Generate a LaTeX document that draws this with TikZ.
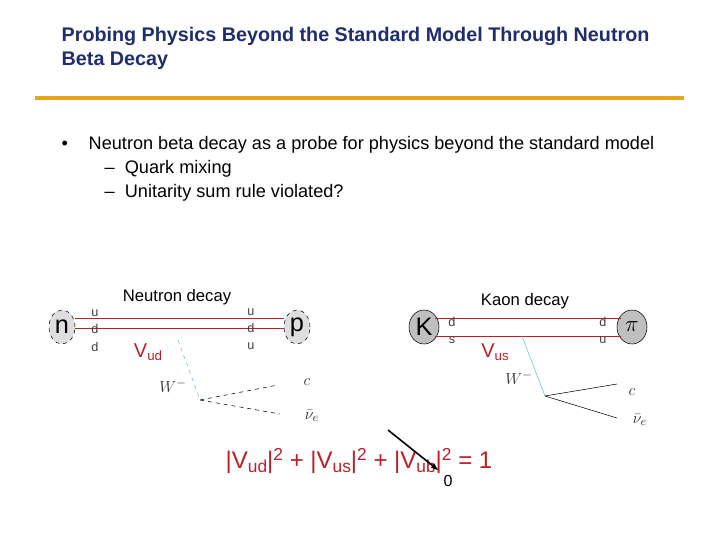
\documentclass[tikz,border=0pt]{standalone}
\usepackage{fontspec}
\setmainfont{Liberation Sans}
\usetikzlibrary{shapes.geometric,arrows.meta}
\definecolor{ttl}{RGB}{31,45,110}
\definecolor{orng}{RGB}{232,165,30}
\definecolor{qred}{RGB}{190,30,40}
\definecolor{wcyan}{RGB}{100,190,200}
\begin{document}
\begin{tikzpicture}[x=0.75pt,y=-0.75pt,
  had/.style={ellipse,draw,dashed,fill=black!13,inner sep=0pt,minimum width=26pt*0.75,minimum height=34pt*0.75,font=\fontsize{19}{19}\selectfont},
  hads/.style={ellipse,draw,fill=black!25,inner sep=0pt,minimum width=30pt*0.75,minimum height=34pt*0.75,font=\fontsize{19}{19}\selectfont},
  q/.style={font=\fontsize{9.5}{9.5}\selectfont,text=black!75},
  lab/.style={font=\fontsize{13}{13}\selectfont\itshape,text=black!80},
  body/.style={anchor=west,font=\fontsize{13.6}{15}\selectfont},
  quark/.style={draw=qred,line width=0.6pt}]
\useasboundingbox (0,0) rectangle (720,540);
\node[anchor=west,text=ttl,font=\fontsize{14.8}{18}\selectfont\bfseries,align=left] (title) at (57,48) {Probing Physics Beyond the Standard Model Through Neutron\\Beta Decay};
\draw[orng,line width=3pt] (35,98) -- (684,98);
\node[body] (b0) at (57,145) {•};
\node[body] (b1) at (84,145) {Neutron beta decay as a probe for physics beyond the standard model};
\node[body] (b2) at (100,169) {–\ \ Quark mixing};
\node[body] (b3) at (100,193) {–\ \ Unitarity sum rule violated?};
% neutron
\node[font=\fontsize{12.5}{12.5}\selectfont] (nd) at (177,297) {Neutron decay};
\node[had] (n) at (62,327) {n};
\node[had] (p) at (297,327) {p};
\draw[quark] (n.east|-0,318) -- (p.west|-0,318);
\draw[quark] (n.east|-0,328) -- (p.west|-0,328);
\node[q] (q1) at (95,313) {u}; \node[q] (q2) at (95,329) {d}; \node[q] (q3) at (95,347) {d};
\node[q] (q4) at (251,312) {u}; \node[q] (q5) at (251,328) {d}; \node[q] (q6) at (251,346) {u};
\node[text=qred,font=\fontsize{15}{15}\selectfont] (vud) at (148,352) {V\raisebox{-2pt}{\fontsize{10}{10}\selectfont ud}};
\coordinate (w1a) at (178,340); \coordinate (w1b) at (200,400);
\coordinate (e1) at (278,385); \coordinate (v1) at (280,414);
\draw[wcyan,dashed] (w1a) -- (w1b);
\draw[dashed] (w1b) -- (e1); \draw[dashed] (w1b) -- (v1);
\node[lab] (wl1) at (173,386) {$W^-$};
\node[lab] (el1) at (307,382) {$c$};
\node[lab] (nl1) at (312,416) {$\bar\nu_e$};
% kaon
\node[font=\fontsize{12.5}{12.5}\selectfont] (kd) at (525,301) {Kaon decay};
\node[hads] (K) at (424,327) {K};
\node[hads] (pi) at (632,327) {$\pi$};
\draw[quark] (K.north east|-0,318) -- (pi.north west|-0,318);
\draw[quark] (K.south east|-0,336) -- (pi.south west|-0,336);
\node[q] (k1) at (452,322) {d}; \node[q] (k2) at (452,340) {s};
\node[q] (k3) at (603,322) {d}; \node[q] (k4) at (603,340) {u};
\node[text=qred,font=\fontsize{15}{15}\selectfont] (vus) at (495,352) {V\raisebox{-2pt}{\fontsize{10}{10}\selectfont us}};
\coordinate (w2a) at (522,336); \coordinate (w2b) at (545,396);
\coordinate (e2) at (617,384); \coordinate (v2) at (617,418);
\draw[wcyan] (w2a) -- (w2b);
\draw (w2b) -- (e2); \draw (w2b) -- (v2);
\node[lab] (wl2) at (519,378) {$W^-$};
\node[lab] (el2) at (632,392) {$c$};
\node[lab] (nl2) at (640,420) {$\bar\nu_e$};
% equation
\node[text=qred,font=\fontsize{18}{18}\selectfont] (eq) at (359,461)
 {|V\raisebox{-3pt}{\fontsize{13}{13}\selectfont ud}|\raisebox{6pt}{\fontsize{13}{13}\selectfont 2} + |V\raisebox{-3pt}{\fontsize{13}{13}\selectfont us}|\raisebox{6pt}{\fontsize{13}{13}\selectfont 2} + |V\raisebox{-3pt}{\fontsize{13}{13}\selectfont ub}|\raisebox{6pt}{\fontsize{13}{13}\selectfont 2} = 1};
\node[font=\fontsize{12}{12}\selectfont] (zero) at (448,481) {0};
\coordinate (as) at (388,430);
\draw[line width=1.2pt,-{Latex[length=6pt]}] (as) -- (zero.north west);
\end{tikzpicture}
\end{document}
